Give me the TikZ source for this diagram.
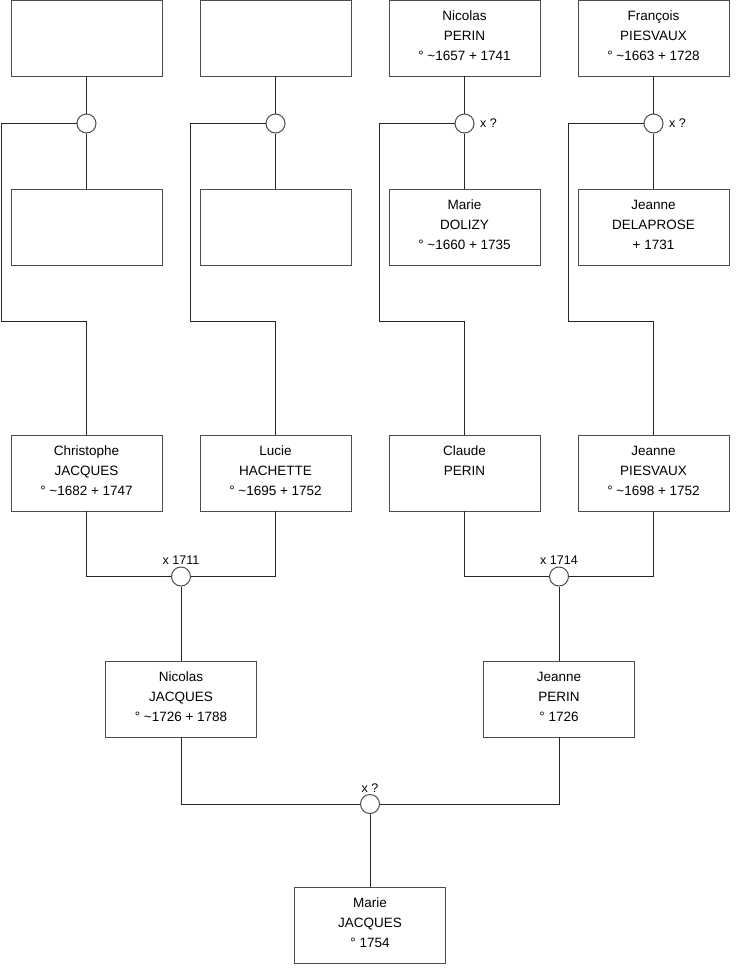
\documentclass[tikz,border=0pt]{standalone}
\usepackage{fontspec}
\setmainfont{Liberation Sans}
\usepackage{tikz}
\usetikzlibrary{positioning}
\newcommand{\ca}{\textasciitilde}
\newcommand{\who}[1]{\parbox[t][76pt][t]{151pt}{\centering\vspace{11pt}#1}}

\begin{document}
\begin{tikzpicture}[
  x=1pt, y=-1pt,
  person/.style={draw=black!70, line width=1pt, inner sep=0pt, outer sep=0pt, anchor=north,
    minimum width=151pt, minimum height=76pt,
    font=\fontsize{13.5}{20}\selectfont},
  wed/.style={circle, draw=black!70, line width=1pt, fill=white, minimum size=19pt, inner sep=0pt},
  lnk/.style={draw=black!85, line width=1pt},
  wlab/.style={font=\fontsize{12.5}{14}\selectfont, inner sep=1.5pt},
  node distance=38pt and 38pt
]
  \useasboundingbox (0,0) rectangle (740,975);

  % great-grandparents
  \node[person] (a1) at (86.5,0) {\who{}};
  \node[person] (a2) at (275.5,0) {\who{}};
  \node[person] (a3) at (464.5,0) {\who{Nicolas\\PERIN\\° \ca1657 + 1741}};
  \node[person] (a4) at (653.5,0) {\who{François\\PIESVAUX\\° \ca1663 + 1728}};

  \node[person] (b1) at (86.5,189) {\who{}};
  \node[person] (b2) at (275.5,189) {\who{}};
  \node[person] (b3) at (464.5,189) {\who{Marie\\DOLIZY\\° \ca1660 + 1735}};
  \node[person] (b4) at (653.5,189) {\who{Jeanne\\DELAPROSE\\+ 1731}};

  \node[wed] (w1) at (86.5,123.5) {};
  \node[wed] (w2) at (275.5,123.5) {};
  \node[wed, label={[wlab, label distance=4pt]right:x ?}] (w3) at (464.5,123.5) {};
  \node[wed, label={[wlab, label distance=4pt]right:x ?}] (w4) at (653.5,123.5) {};

  % grandparents
  \node[person] (c1) at (86.5,435) {\who{Christophe\\JACQUES\\° \ca1682 + 1747}};
  \node[person] (c2) at (275.5,435) {\who{Lucie\\HACHETTE\\° \ca1695 + 1752}};
  \node[person] (c3) at (464.5,435) {\who{Claude\\PERIN}};
  \node[person] (c4) at (653.5,435) {\who{Jeanne\\PIESVAUX\\° \ca1698 + 1752}};

  \node[wed, label={[wlab]above:x 1711}] (w5) at (181,576.5) {};
  \node[wed, label={[wlab]above:x 1714}] (w6) at (559,576.5) {};

  % parents
  \node[person] (d1) at (181,661) {\who{Nicolas\\JACQUES\\° \ca1726 + 1788}};
  \node[person] (d2) at (559,661) {\who{Jeanne\\PERIN\\° 1726}};

  \node[wed, label={[wlab]above:x ?}] (w7) at (370,804) {};

  \node[person] (e1) at (370,887) {\who{Marie\\JACQUES\\° 1754}};

  % links
  \foreach \i in {1,2,3,4}{
    \draw[lnk] (a\i.south) -- (w\i.north);
    \draw[lnk] (w\i.south) -- (b\i.north);
  }
  \draw[lnk] (w1.west) -| (1.5,321.5) -| (c1.north);
  \draw[lnk] (w2.west) -| (190.5,321.5) -| (c2.north);
  \draw[lnk] (w3.west) -| (379.5,321.5) -| (c3.north);
  \draw[lnk] (w4.west) -| (568.5,321.5) -| (c4.north);

  \draw[lnk] (c1.south) |- (w5.west);
  \draw[lnk] (c2.south) |- (w5.east);
  \draw[lnk] (w5.south) -- (d1.north);
  \draw[lnk] (c3.south) |- (w6.west);
  \draw[lnk] (c4.south) |- (w6.east);
  \draw[lnk] (w6.south) -- (d2.north);

  \draw[lnk] (d1.south) |- (w7.west);
  \draw[lnk] (d2.south) |- (w7.east);
  \draw[lnk] (w7.south) -- (e1.north);
\end{tikzpicture}
\end{document}
